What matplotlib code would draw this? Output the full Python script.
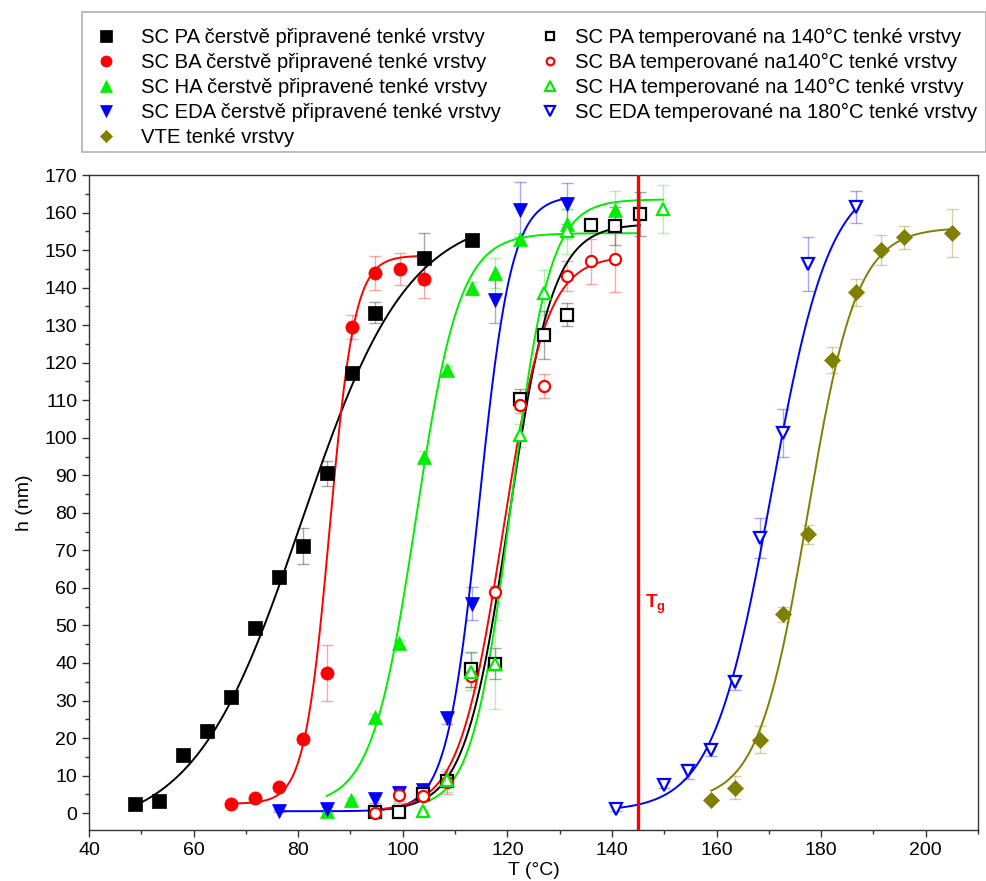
import numpy as np
import matplotlib
matplotlib.use("Agg")
import matplotlib.pyplot as plt
from matplotlib.lines import Line2D
from matplotlib.patches import Rectangle
from matplotlib.ticker import MultipleLocator

plt.rcParams['font.family'] = ['Liberation Sans', 'DejaVu Sans']
plt.rcParams['mathtext.fontset'] = 'custom'
plt.rcParams['mathtext.rm'] = 'Liberation Sans'
plt.rcParams['mathtext.bf'] = 'Liberation Sans:bold'

# --- data (T in degC, h in nm, err = +/-) ---
pa_fresh_t = [48.8, 53.3, 58.0, 62.6, 67.2, 71.8, 76.3, 80.9, 85.5, 90.2, 94.7, 104.0, 113.2]
pa_fresh_h = [2.3, 3.3, 15.4, 22.0, 30.9, 49.3, 63.0, 71.2, 90.5, 117.3, 133.3, 147.8, 152.8]
pa_fresh_err = [0.5, 0.5, 0.8, 1.5, 0.8, 1.0, 0.8, 4.8, 3.3, 1.0, 2.8, 6.8, 0.5]

ba_fresh_t = [67.2, 71.8, 76.3, 80.9, 85.5, 90.2, 94.7, 99.4, 104.0]
ba_fresh_h = [2.4, 3.9, 7.0, 19.8, 37.4, 129.4, 143.9, 144.9, 142.3]
ba_fresh_err = [0.5, 0.5, 0.8, 0.8, 7.4, 3.2, 4.5, 4.3, 5.0]

ha_fresh_t = [85.5, 90.1, 94.7, 99.3, 104.0, 108.5, 113.2, 117.7, 122.4, 131.5, 140.6]
ha_fresh_h = [0.5, 3.5, 25.6, 45.3, 95.0, 118.0, 139.8, 143.8, 153.0, 157.0, 160.8]
ha_fresh_err = [0.3, 0.5, 0.8, 0.8, 1.5, 1.0, 1.8, 4.0, 1.5, 4.0, 5.0]

eda_fresh_t = [76.3, 85.5, 94.7, 99.3, 103.8, 108.5, 113.2, 117.7, 122.4, 131.5]
eda_fresh_h = [0.6, 1.0, 3.8, 5.3, 6.2, 25.3, 55.8, 136.6, 160.8, 162.4]
eda_fresh_err = [0.3, 0.5, 1.0, 2.0, 1.0, 1.5, 4.4, 6.0, 7.4, 5.5]

pa_temp_t = [94.7, 99.3, 103.9, 108.5, 113.1, 117.7, 122.4, 127.0, 131.5, 136.0, 140.6, 145.3]
pa_temp_h = [0.2, 0.2, 5.0, 8.5, 38.3, 39.8, 110.4, 127.4, 132.8, 156.6, 156.4, 159.7]
pa_temp_err = [0.5, 0.5, 1.0, 1.5, 4.7, 4.2, 2.7, 6.4, 3.1, 1.0, 5.0, 5.9]

ba_temp_t = [94.7, 99.3, 103.9, 108.5, 113.1, 117.7, 122.4, 127.0, 131.5, 136.0, 140.6]
ba_temp_h = [0.0, 4.8, 4.6, 8.2, 36.5, 58.9, 108.6, 113.8, 143.0, 147.0, 147.7]
ba_temp_err = [0.5, 2.0, 1.5, 3.0, 3.0, 1.5, 2.0, 3.3, 4.0, 6.0, 9.0]

ha_temp_t = [103.9, 108.5, 113.1, 117.7, 122.4, 127.0, 131.5, 149.8]
ha_temp_h = [0.6, 8.7, 37.7, 39.6, 100.6, 138.6, 155.0, 161.0]
ha_temp_err = [0.5, 3.0, 5.0, 11.9, 3.0, 6.0, 6.0, 6.4]

eda_temp_t = [140.7, 150.0, 154.5, 159.0, 163.6, 168.3, 172.8, 177.4, 186.7]
eda_temp_h = [1.0, 7.6, 11.2, 16.8, 34.9, 73.3, 101.3, 146.2, 161.5]
eda_temp_err = [0.5, 0.8, 2.0, 1.5, 2.0, 5.4, 6.4, 7.2, 4.2]

vte_t = [159.0, 163.6, 168.3, 172.8, 177.4, 182.1, 186.7, 191.4, 195.8, 205.0]
vte_h = [3.5, 6.8, 19.6, 53.0, 74.3, 120.7, 138.7, 150.1, 153.4, 154.6]
vte_err = [0.5, 3.0, 3.5, 2.0, 2.5, 3.5, 3.5, 4.0, 3.0, 6.4]

# Boltzmann fit parameters [A1, A2, x0, dx]
pa_fresh_fit = [-5.0, 160.0, 80.6, 10.2]
ba_fresh_fit = [2.5, 148.5, 86.0, 2.4]
ha_fresh_fit = [2.0, 154.5, 102.5, 4.2]
eda_fresh_fit = [0.5, 164.5, 114.6, 3.1]
pa_temp_fit = [0.5, 157.0, 120.3, 4.2]
ba_temp_fit = [0.5, 148.5, 119.1, 4.2]
ha_temp_fit = [1.0, 163.5, 120.7, 3.7]
eda_temp_fit = [0.5, 170.0, 170.5, 5.6]
vte_fit = [3.0, 156.0, 177.4, 4.7]

# fit curve ranges [start, end]
pa_fresh_rng = [48.8, 113.2]
ba_fresh_rng = [67.2, 104.0]
ha_fresh_rng = [85.5, 145.0]
eda_fresh_rng = [76.3, 131.5]
pa_temp_rng = [94.7, 145.3]
ba_temp_rng = [94.7, 140.6]
ha_temp_rng = [103.9, 149.8]
eda_temp_rng = [140.7, 186.7]
vte_rng = [159.0, 205.0]

tg = 145.0

labels = ["SC PA čerstvě připravené tenké vrstvy",
          "SC BA čerstvě připravené tenké vrstvy",
          "SC HA čerstvě připravené tenké vrstvy",
          "SC EDA čerstvě připravené tenké vrstvy",
          "VTE tenké vrstvy",
          "SC PA temperované na 140°C tenké vrstvy",
          "SC BA temperované na140°C tenké vrstvy",
          "SC HA temperované na 140°C tenké vrstvy",
          "SC EDA temperované na 180°C tenké vrstvy"]

BLACK = "#000000"
RED = "#ff0000"
GREEN = "#00ee00"
BLUE = "#0000ff"
OLIVE = "#808000"


def boltzmann(x, p):
  a1, a2, x0, dx = p
  return a2 + (a1 - a2) / (1 + np.exp((x - x0) / dx))


series = [
  (pa_fresh_t, pa_fresh_h, pa_fresh_err, pa_fresh_fit, pa_fresh_rng, BLACK, 's', True, labels[0]),
  (ba_fresh_t, ba_fresh_h, ba_fresh_err, ba_fresh_fit, ba_fresh_rng, RED, 'o', True, labels[1]),
  (ha_fresh_t, ha_fresh_h, ha_fresh_err, ha_fresh_fit, ha_fresh_rng, GREEN, '^', True, labels[2]),
  (eda_fresh_t, eda_fresh_h, eda_fresh_err, eda_fresh_fit, eda_fresh_rng, BLUE, 'v', True, labels[3]),
  (vte_t, vte_h, vte_err, vte_fit, vte_rng, OLIVE, 'D', True, labels[4]),
  (pa_temp_t, pa_temp_h, pa_temp_err, pa_temp_fit, pa_temp_rng, BLACK, 's', False, labels[5]),
  (ba_temp_t, ba_temp_h, ba_temp_err, ba_temp_fit, ba_temp_rng, RED, 'o', False, labels[6]),
  (ha_temp_t, ha_temp_h, ha_temp_err, ha_temp_fit, ha_temp_rng, GREEN, '^', False, labels[7]),
  (eda_temp_t, eda_temp_h, eda_temp_err, eda_temp_fit, eda_temp_rng, BLUE, 'v', False, labels[8]),
]

msize = {'s': 9.5, 'o': 9.5, '^': 10.5, 'v': 10.5, 'D': 8.0}

fig = plt.figure(figsize=(9.87, 8.81), dpi=100)
ax = fig.add_axes([89/987, 1 - 830/881, (978 - 89)/987, (830 - 175)/881])

handles = []
for t, h, err, fit, rng, col, mk, filled, lab in series:
  ax.errorbar(t, h, yerr=err, fmt='none', ecolor=col, alpha=0.35,
              elinewidth=1.0, capsize=4, capthick=1.0, zorder=2)
  xs = np.linspace(rng[0], rng[1], 300)
  ax.plot(xs, boltzmann(xs, fit), color=col, lw=1.4, zorder=3)
  if filled:
    kw = dict(markerfacecolor=col, markeredgecolor=col, markeredgewidth=0.5)
  else:
    kw = dict(markerfacecolor='white', markeredgecolor=col, markeredgewidth=1.6)
  ms = msize[mk] if filled else msize[mk] - 1.5
  ax.plot(t, h, linestyle='none', marker=mk, markersize=ms, zorder=4, **kw)
  handles.append(Line2D([], [], linestyle='none', marker=mk,
                        markersize=(ms - 1.5 if filled else ms - 2.5), **kw))

ax.axvline(tg, color=RED, lw=2.4, zorder=5)
ax.text(tg + 1.3, 55.5, r'$\mathbf{T_g}$', color=RED, fontsize=13.5,
        ha='left', va='center')

ax.set_xlim(40, 210)
ax.set_ylim(-4.5, 170)
ax.xaxis.set_major_locator(MultipleLocator(20))
ax.xaxis.set_minor_locator(MultipleLocator(10))
ax.yaxis.set_major_locator(MultipleLocator(10))
ax.yaxis.set_minor_locator(MultipleLocator(5))
ax.tick_params(which='both', direction='out', top=False, right=False,
               labelsize=14, color='#333333')
ax.tick_params(which='major', length=5, width=1)
ax.tick_params(which='minor', length=3, width=1)
for s in ax.spines.values():
  s.set_color('#333333')
  s.set_linewidth(1.0)

ax.set_xlabel('T (°C)', fontsize=14, labelpad=2)
ax.set_ylabel('h (nm)', fontsize=14, labelpad=8)

# legend frame and two columns
fig.patches.append(Rectangle((82/987, 1 - 152/881), (986 - 82)/987, 140/881,
                             transform=fig.transFigure, fill=False,
                             edgecolor='#b0b0b0', lw=1.2))
leg_kw = dict(frameon=False, fontsize=14.6, handlelength=1.0,
              labelspacing=0.3, borderpad=0, borderaxespad=0)
fig.legend(handles[:5], labels[:5], loc='center left', handletextpad=1.2,
           bbox_to_anchor=(96/987, 1 - 87.5/881), **leg_kw)
fig.legend(handles[5:], labels[5:], loc='center left', handletextpad=0.75,
           bbox_to_anchor=(540/987, 1 - 75/881), **leg_kw)

fig.savefig('out.png', dpi=100)
